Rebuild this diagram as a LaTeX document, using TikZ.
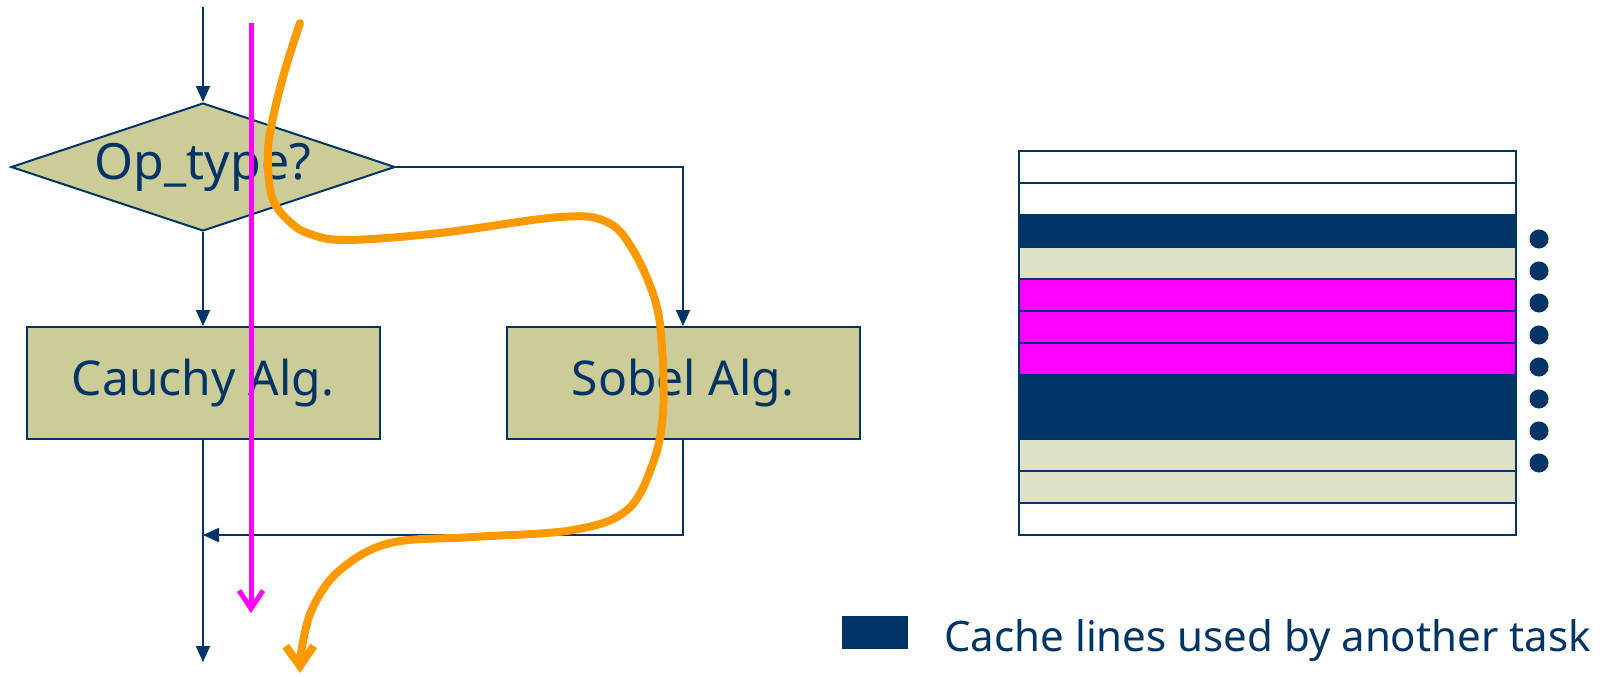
\documentclass[tikz,border=0pt]{standalone}
\usepackage{fontspec}
\setmainfont{Noto Sans}
\usetikzlibrary{shapes.geometric,arrows.meta}
\definecolor{navy}{RGB}{0,51,102}
\definecolor{khaki}{RGB}{204,204,153}
\definecolor{sand}{RGB}{224,224,200}
\definecolor{hotpink}{RGB}{255,0,255}
\definecolor{amber}{RGB}{255,153,0}

\begin{document}
\begin{tikzpicture}[x=0.5pt, y=-0.5pt,
  algbox/.style={draw=navy, line width=1pt, fill=khaki, rectangle, minimum width=176.5pt, minimum height=56pt, inner sep=0pt, text=navy, font=\fontsize{24}{28}\selectfont},
  decision/.style={draw=navy, line width=1pt, fill=khaki, diamond, aspect=3, minimum width=192pt, minimum height=64pt, inner sep=0pt, text=navy, font=\fontsize{25}{30}\selectfont},
  flowarrow/.style={draw=navy, line width=1pt, -{Triangle[length=8pt,width=7pt]}},
  taskA/.style={hotpink, line width=2.5pt, -{Straight Barb[length=9pt,width=12pt]}},
  taskB/.style={amber, line width=4pt, line cap=round, -{Straight Barb[length=10pt,width=14pt]}},
  cacheline/.style={draw=navy, line width=1pt}
]
\useasboundingbox (0,0) rectangle (1609,676);

% Organigramme
\coordinate (entry) at (203,7);
\node[decision] (optype) at (203,167) {Op\_type?};
\node[algbox] (cauchy) at (203,383) {Cauchy Alg.};
\node[algbox] (sobel) at (683,383) {Sobel Alg.};
\coordinate (join) at (203,535);
\coordinate (exit) at (203,662);

\draw[flowarrow] (entry) -- (optype.north);
\draw[flowarrow] (optype.south) -- (cauchy.north);
\draw[flowarrow] (optype.east) -| (sobel.north);
\draw[flowarrow] (sobel.south) |- (join);
\draw[flowarrow] (cauchy.south) -- (exit);

% Chemins d'execution
\coordinate (pinkstart) at (251,23);
\coordinate (pinkend) at (251,613);
\draw[taskA] (pinkstart) -- (pinkend);

\draw[taskB] plot[smooth, tension=0.6] coordinates {
  (300,23) (283,77) (270,133) (268,167) (273,200) (290,222) (310,234)
  (347,240) (440,233) (560,217) (607,222) (633,250) (655,300)
  (662,347) (663,413) (653,463) (627,510) (573,530) (473,537)
  (390,543) (340,570) (313,607) (302,647) (300,673)};

% Lignes de cache
\foreach \c [count=\i from 0] in {white,white,navy,sand,hotpink,hotpink,hotpink,navy,navy,sand,sand,white} {
  \draw[cacheline, fill=\c] (1019,{151+32*\i}) rectangle (1516,{183+32*\i});
}
\foreach \k in {0,...,7} {
  \fill[navy] (1539,{239+32*\k}) circle (4.75pt);
}

% Legende
\fill[navy] (842,616) rectangle (908,649);
\node[anchor=west, text=navy, font=\fontsize{21}{25}\selectfont, inner sep=0pt] (legend) at (944,641) {Cache lines used by another task};

\end{tikzpicture}
\end{document}
